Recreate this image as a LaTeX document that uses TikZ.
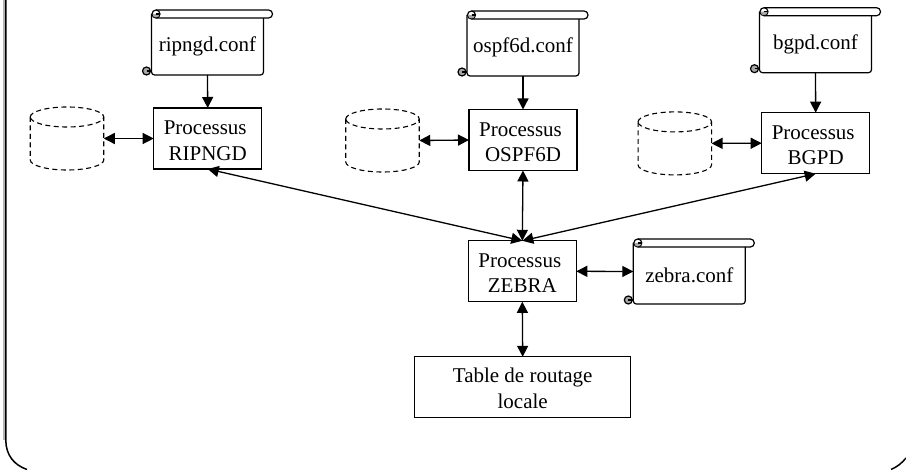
\documentclass[tikz,border=0pt]{standalone}
\usepackage{fontspec}
\setmainfont{Liberation Serif}
\usetikzlibrary{arrows.meta}
\definecolor{curl}{gray}{0.65}
\newcommand{\lowtxt}[2]{\raisebox{-#1}[\height][\depth]{#2}}
\tikzset{
  x=1pt,y=-1pt,
  lbl/.style={font=\fontsize{21}{25.5}\selectfont,align=center,inner sep=0pt,outer sep=0pt},
  procbox/.style={lbl,draw,line width=1.3pt,minimum width=108pt,minimum height=61pt},
  tablebox/.style={procbox,minimum width=216pt},
  scrollbody/.style={lbl,minimum width=112pt,minimum height=65pt},
  cylbox/.style={minimum width=73.5pt,minimum height=63pt,inner sep=0pt,outer sep=0pt},
  link/.style={line width=1.3pt,-{Triangle[length=11pt,width=11pt]}},
  both/.style={line width=1.3pt,{Triangle[length=11pt,width=11pt]}-{Triangle[length=11pt,width=11pt]}},
  frameline/.style={line width=1.5pt},
}
% decoration of a scroll around a node: top band, body, two curls
\newcommand{\scrolldeco}[1]{%
  \draw[line width=1.2pt,rounded corners=3pt]
    ([yshift=-8pt]#1.north east) -- (#1.south east) -- (#1.south west) -- ([yshift=-4pt]#1.north west);
  \draw[line width=1.2pt,rounded corners=3.9pt]
    ([xshift=4.5pt]#1.north west) -- ([xshift=9pt]#1.north east)
    -- ([xshift=9pt,yshift=-8pt]#1.north east) -- ([xshift=4.5pt,yshift=-8pt]#1.north west);
  \draw[line width=1.2pt,fill=white] ([xshift=4.5pt,yshift=-4pt]#1.north west) circle[radius=4pt];
  \fill[curl] ([xshift=4.5pt,yshift=-4pt]#1.north west) ++(-3.5pt,0pt) arc[start angle=180,end angle=360,radius=3.5pt] -- cycle;
  \draw[line width=1.2pt] ([xshift=4.5pt,yshift=-4pt]#1.north west) -- ++(4pt,0pt);
  \draw[line width=1.2pt,fill=curl] ([xshift=-5pt,yshift=4pt]#1.south west) circle[radius=4pt];
  \draw[line width=1.2pt] ([xshift=-5pt,yshift=4pt]#1.south west) -- ++(5pt,0pt);
}
\newcommand{\cyldeco}[1]{%
  \draw[line width=1.1pt,dash pattern=on 5pt off 3.5pt]
    ([yshift=-10pt]#1.north west) arc[x radius=36.75pt,y radius=10pt,start angle=180,end angle=-180];
  \draw[line width=1.1pt,dash pattern=on 5pt off 3.5pt]
    ([yshift=-10pt]#1.north west) -- ([yshift=10pt]#1.south west)
    arc[x radius=36.75pt,y radius=10pt,start angle=180,end angle=360]
    -- ([yshift=-10pt]#1.north east);
}
\begin{document}
\begin{tikzpicture}
\useasboundingbox (0,0) rectangle (906,470);
% frame
\draw[gray!60,line width=1.5pt] (4.2,0) -- (4.2,440);
\draw[frameline] (5.8,0) -- (5.8,440) .. controls (5.8,455) and (14,465) .. (27,469.5);
\draw[frameline] (891,469.5) .. controls (897,467) and (902,463) .. (906,458);
% scrolls
\node[scrollbody] (ripconf) at (207.5,42.5) {\lowtxt{4pt}{ripngd.conf}};
\node[scrollbody] (ospfconf) at (523,43.5) {\lowtxt{4pt}{ospf6d.conf}};
\node[scrollbody] (bgpconf) at (815.5,40.2) {\lowtxt{4pt}{bgpd.conf}};
\node[scrollbody] (zebconf) at (689.3,271.5) {\lowtxt{4pt}{zebra.conf}};
\scrolldeco{ripconf}\scrolldeco{ospfconf}\scrolldeco{bgpconf}\scrolldeco{zebconf}
% process boxes
\node[procbox] (rip) at (207.7,138.5) {\lowtxt{2pt}{Processus\hspace*{5pt}}\\\lowtxt{2pt}{RIPNGD}};
\node[procbox] (ospf) at (523,140) {\lowtxt{2pt}{Processus\hspace*{5pt}}\\\lowtxt{2pt}{OSPF6D}};
\node[procbox] (bgp) at (815.7,143.2) {\lowtxt{2pt}{Processus\hspace*{5pt}}\\\lowtxt{2pt}{BGPD}};
\node[procbox] (zebra) at (522.3,271.3) {\lowtxt{2pt}{Processus\hspace*{5pt}}\\\lowtxt{2pt}{ZEBRA}};
\node[tablebox] (table) at (522.7,387.3) {\lowtxt{1pt}{Table de routage}\\\lowtxt{1pt}{locale}};
% cylinders
\node[cylbox] (ripdb) at (67,138.5) {};
\node[cylbox] (ospfdb) at (382.5,140.5) {};
\node[cylbox] (bgpdb) at (674.8,143.4) {};
\cyldeco{ripdb}\cyldeco{ospfdb}\cyldeco{bgpdb}
% connectors
\draw[link] (ripconf.south) -- (rip.north);
\draw[link] (ospfconf.south) -- (ospf.north);
\draw[link] (bgpconf.south) -- (bgp.north);
\draw[both] (ripdb.east) -- (rip.west);
\draw[both] (ospfdb.east) -- (ospf.west);
\draw[both] (bgpdb.east) -- (bgp.west);
\draw[both] (rip.south) -- (zebra.north);
\draw[both] (ospf.south) -- (zebra.north);
\draw[both] (bgp.south) -- (zebra.north);
\draw[both] (zebra.east) -- (zebconf.west);
\draw[both] (zebra.south) -- (table.north);
\end{tikzpicture}
\end{document}
